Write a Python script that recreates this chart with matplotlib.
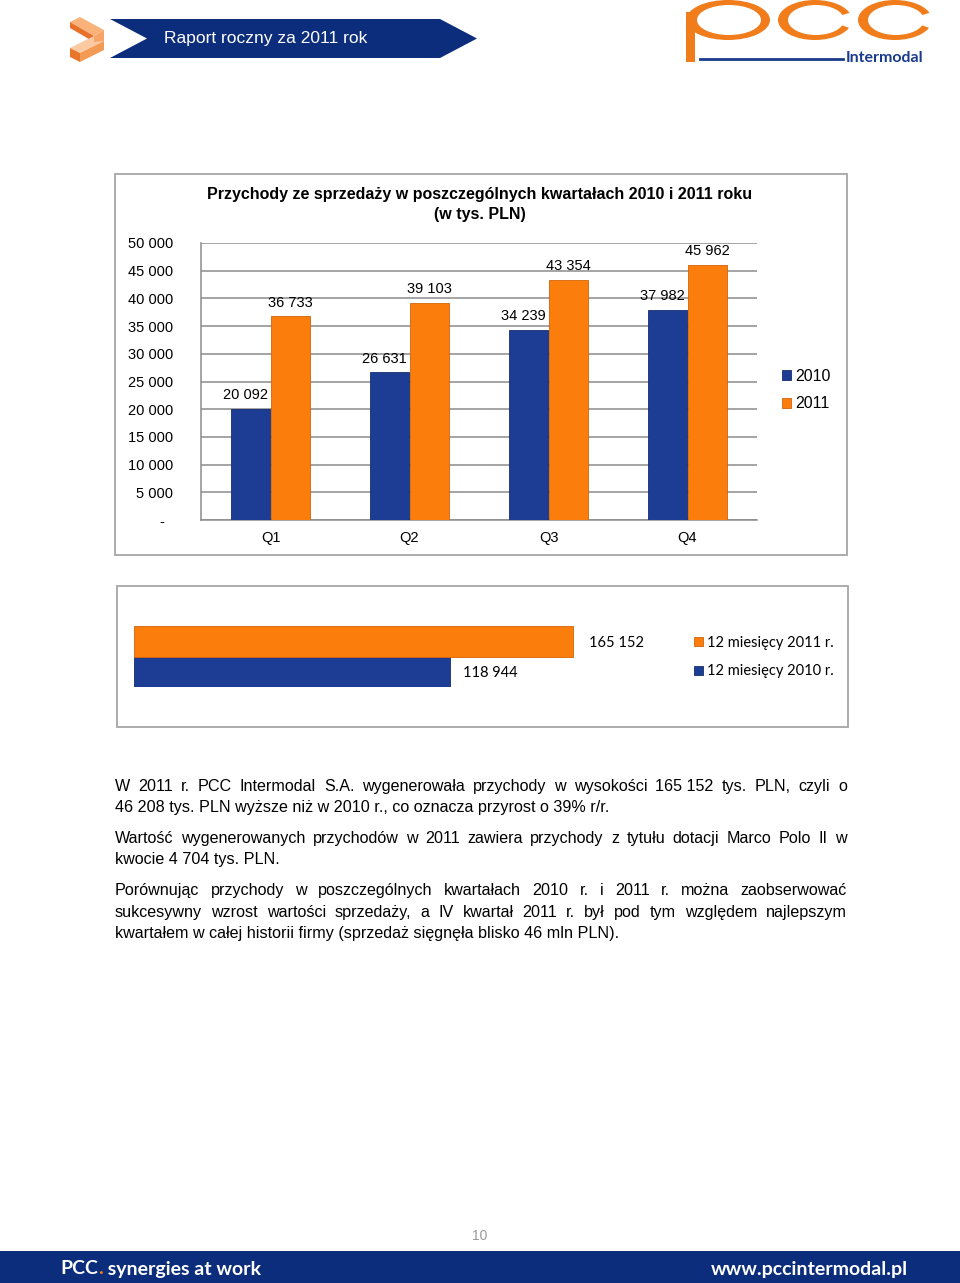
import matplotlib
matplotlib.use("Agg")
import matplotlib.pyplot as plt
from matplotlib.patches import Rectangle, Polygon, Ellipse
import numpy as np

W, H = 960, 1283

# dane - przychody kwartalne (tys. PLN)
kwartaly = ["Q1", "Q2", "Q3", "Q4"]
przychody_2010 = [20092, 26631, 34239, 37982]
przychody_2011 = [36733, 39103, 43354, 45962]

# dane - przychody roczne (tys. PLN)
okresy = ["12 miesięcy 2010 r.", "12 miesięcy 2011 r."]
przychody_roczne = [118944, 165152]

y_ticks = [0, 5000, 10000, 15000, 20000, 25000, 30000, 35000, 40000, 45000, 50000]

NAVY = "#1d3c94"
ORANGE = "#fb7d0c"
BANNER = "#0c2d7b"
SANS = ["Liberation Sans", "DejaVu Sans"]
CALIBRI = ["Lato", "DejaVu Sans"]


def fmt(v):
    return f"{v:,}".replace(",", " ")


def fbox(x0, y0, x1, y1):
    # prostokat w pikselach (od gory) -> wspolrzedne figury
    return [x0 / W, 1 - y1 / H, (x1 - x0) / W, (y1 - y0) / H]


fig = plt.figure(figsize=(W / 100, H / 100), dpi=100)
fig.patch.set_facecolor("white")

# warstwa strony w pikselach
page = fig.add_axes([0, 0, 1, 1])
page.set_xlim(0, W)
page.set_ylim(H, 0)
page.axis("off")

# --- naglowek ---
page.add_patch(Polygon([(110, 19), (440, 19), (477, 38.5), (440, 58), (110, 58), (147, 38.5)],
                       closed=True, color=BANNER, lw=0))
page.text(164, 38.5, "Raport roczny za 2011 rok", color="white", fontsize=12.5,
          family=SANS, va="center", ha="left")

# logo - pomaranczowe klocki
klocki = [
    ([(70, 22), (80, 17), (104, 30), (94, 36)], "#f8b27a"),
    ([(70, 22), (94, 36), (94, 42), (70, 28)], "#e8702a"),
    ([(70, 48), (94, 36), (104, 41), (80, 53)], "#fbcaa2"),
    ([(70, 48), (80, 53), (80, 62), (70, 57)], "#e7762c"),
    ([(80, 53), (104, 41), (104, 50), (80, 62)], "#f39b55"),
    ([(94, 36), (104, 30), (104, 41), (94, 42)], "#f6a566"),
]
for pts, c in klocki:
    page.add_patch(Polygon(pts, closed=True, color=c, lw=0))

# logo pcc
LOGO = "#f07c1b"
page.add_patch(Ellipse((728, 20), 84, 40, color=LOGO, lw=0))
page.add_patch(Ellipse((729, 20), 64, 30, color="white", lw=0))
page.add_patch(Rectangle((686, 12), 9, 50, color=LOGO, lw=0))
for cx in (815, 895):
    page.add_patch(Ellipse((cx, 20), 74, 40, color=LOGO, lw=0))
    page.add_patch(Ellipse((cx + 1, 20), 56, 30, color="white", lw=0))
    page.add_patch(Polygon([(cx + 12, 20), (cx + 40, 11), (cx + 40, 30)], closed=True, color="white", lw=0))
page.plot([700, 843], [59, 59], color="#1a3a8c", lw=2)
page.text(846, 58, "Intermodal", color="#1a3a8c", fontsize=11.5, fontweight="bold",
          family=CALIBRI, va="center", ha="left")

# --- ramki wykresow ---
page.add_patch(Rectangle((115, 174), 732, 381, fill=False, ec="#a6a6a6", lw=1.3))
page.add_patch(Rectangle((117, 586), 731, 141, fill=False, ec="#a6a6a6", lw=1.3))

# --- wykres kwartalny ---
ax = fig.add_axes(fbox(201, 243, 757, 520))
x = np.arange(len(kwartaly))
w = 0.28
b1 = ax.bar(x - 0.142, przychody_2010, w, color=NAVY, edgecolor="#152d70", lw=0.6, label="2010", zorder=3)
b2 = ax.bar(x + 0.142, przychody_2011, w, color=ORANGE, edgecolor="#d2640a", lw=0.6, label="2011", zorder=3)
for bars, vals, dx in ((b1, przychody_2010, -4), (b2, przychody_2011, 0)):
    for r, v in zip(bars, vals):
        ax.annotate(fmt(v), (r.get_x() + r.get_width() / 2, v), xytext=(dx, 5),
                    textcoords="offset points", ha="center", va="bottom",
                    fontsize=10.5, family=SANS)
ax.set_xlim(-0.5, 3.5)
ax.set_ylim(0, 50000)
ax.set_yticks(y_ticks)
ax.set_yticklabels(["-  "] + [fmt(t) for t in y_ticks[1:]], family=SANS, fontsize=10.5)
ax.set_xticks(x)
ax.set_xticklabels(kwartaly, family=SANS, fontsize=10.5)
ax.tick_params(axis="y", length=0, pad=20)
ax.tick_params(axis="x", length=0, pad=8)
ax.grid(axis="y", color="#8c8c8c", lw=1.1, zorder=0)
ax.set_axisbelow(True)
for s in ("top", "right"):
    ax.spines[s].set_visible(False)
ax.spines["left"].set_color("#8c8c8c")
ax.spines["bottom"].set_color("#8c8c8c")
ax.spines["left"].set_linewidth(1.1)
ax.spines["bottom"].set_linewidth(1.1)
ax.legend(loc="center left", bbox_to_anchor=(768 / W, 1 - 390 / H), bbox_transform=fig.transFigure,
          frameon=False, prop={"family": SANS, "size": 11.5}, handlelength=0.55, handleheight=0.55,
          handletextpad=0.25, labelspacing=0.8)
page.text(480, 195, "Przychody ze sprzedaży w poszczególnych kwartałach 2010 i 2011 roku",
          ha="center", va="center", fontsize=11.5, fontweight="bold", family=SANS)
page.text(480, 214, "(w tys. PLN)", ha="center", va="center", fontsize=11.5,
          fontweight="bold", family=SANS)

# --- wykres roczny ---
ax2 = fig.add_axes(fbox(134, 626, 666, 687))
kolory = [NAVY, ORANGE]
krawedzie = ["#152d70", "#d2640a"]
bh = ax2.barh([0, 1], przychody_roczne, height=1.0, color=kolory, edgecolor=krawedzie, lw=0.6)
for r, v, dx in zip(bh, przychody_roczne, (9, 11)):
    ax2.annotate(fmt(v), (v, r.get_y() + r.get_height() / 2), xytext=(dx, -1),
                 textcoords="offset points", ha="left", va="center",
                 fontsize=10.5, family=CALIBRI)
ax2.set_xlim(0, 200000)
ax2.set_ylim(-0.5, 1.5)
ax2.axis("off")
ax2.legend([bh[1], bh[0]], [okresy[1], okresy[0]], loc="center left",
           bbox_to_anchor=(681 / W, 1 - 657 / H), bbox_transform=fig.transFigure,
           frameon=False, prop={"family": CALIBRI, "size": 10.5},
           handlelength=0.6, handleheight=0.6, handletextpad=0.3, labelspacing=1.0)

# --- tekst ---
NB = "\u00a0"
linie = [
    ("W 2011 r. PCC Intermodal S.A. wygenerowała przychody w wysokości 165" + NB + "152 tys. PLN, czyli o", True, 791),
    ("46" + NB + "208 tys. PLN wyższe niż w 2010 r., co oznacza przyrost o 39% r/r.", False, 812),
    ("Wartość wygenerowanych przychodów w 2011 zawiera przychody z tytułu dotacji Marco Polo II w", True, 843),
    ("kwocie 4" + NB + "704 tys. PLN.", False, 864),
    ("Porównując przychody w poszczególnych kwartałach 2010 r. i 2011 r. można zaobserwować", True, 895),
    ("sukcesywny wzrost wartości sprzedaży, a IV kwartał 2011 r. był pod tym względem najlepszym", True, 917),
    ("kwartałem w całej historii firmy (sprzedaż sięgnęła blisko 46 mln PLN).", False, 938),
]
renderer = fig.canvas.get_renderer()
tkw = dict(fontsize=11.6, family=SANS, va="baseline", ha="left", color="black")


def szer(s):
    t = page.text(0, 500, s, **tkw)
    wd = t.get_window_extent(renderer).width
    t.remove()
    return wd


L, R = 115, 847
for linia, justuj, yb in linie:
    if not justuj:
        page.text(L, yb, linia, **tkw)
        continue
    slowa = linia.split(" ")
    szerokosci = [szer(s) for s in slowa]
    odstep = (R - L - sum(szerokosci)) / (len(slowa) - 1)
    xp = L
    for s, wd in zip(slowa, szerokosci):
        page.text(xp, yb, s, **tkw)
        xp += wd + odstep

# --- stopka ---
page.text(480, 1236, "10", ha="center", va="center", fontsize=10, color="#9a9a9a", family=SANS)
page.add_patch(Rectangle((0, 1251), W, 32, color=BANNER, lw=0))
fkw = dict(fontsize=14, fontweight="bold", family=CALIBRI, va="center", ha="left")
xp = 60
for s, c in (("PCC", "white"), (".", ORANGE), (" synergies at work", "white")):
    t = page.text(xp, 1269, s, color=c, **fkw)
    xp += t.get_window_extent(renderer).width
page.text(908, 1269, "www.pccintermodal.pl", color="white", **dict(fkw, ha="right"))

fig.savefig("out.png", dpi=100)
